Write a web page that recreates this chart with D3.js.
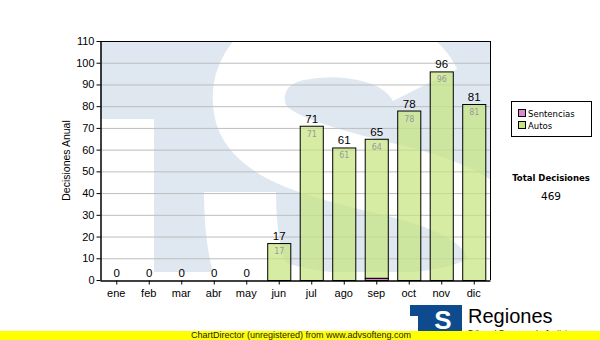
<!DOCTYPE html>
<html><head><meta charset="utf-8">
<script src="https://cdn.jsdelivr.net/npm/d3@7"></script>
<style>
html,body{margin:0;padding:0;background:#fff;}
svg{display:block;}
</style></head>
<body>
<script>
const months = ['ene','feb','mar','abr','may','jun','jul','ago','sep','oct','nov','dic'];
const sentencias = [0,0,0,0,0,0,0,0,1,0,0,0];
const autos = [0,0,0,0,0,17,71,61,64,78,96,81];
const yTicks = [0,10,20,30,40,50,60,70,80,90,100,110];
const seriesNames = ['Sentencias','Autos'];
const seriesColors = ['#dd88cc','#c6e57f'];
const yTitle = 'Decisiones Anual';
const totalTitle = 'Total Decisiones';

const W = 600, H = 340;
const svg = d3.select('body').append('svg').attr('width', W).attr('height', H);

const L = 100, R = 490, T = 41, B = 280;
const x = d3.scaleBand().domain(months).range([L, R]).paddingInner(0.29).paddingOuter(0.145);
const y = d3.scaleLinear().domain([0, 110]).range([B, T]);

// watermark
const defs = svg.append('defs');
defs.append('clipPath').attr('id','pc').append('rect').attr('x',L).attr('y',T).attr('width',R-L).attr('height',B-T);
const wm = svg.append('g').attr('clip-path','url(#pc)');
wm.append('rect').attr('x',L).attr('y',T).attr('width',R-L).attr('height',272-T).attr('fill','#dfe8f1');
wm.append('rect').attr('x',L).attr('y',119).attr('width',154-L).attr('height',B-119).attr('fill','#fff');
wm.append('path')
  .attr('d','M 425 85 C 405 45, 345 35, 295 45 C 255 55, 245 85, 250 110 C 258 150, 330 165, 400 182 C 470 200, 505 225, 505 265 C 505 320, 300 320, 262 290 C 245 275, 240 230, 240 192')
  .attr('fill','none').attr('stroke','#fff').attr('stroke-width',72);

// gridlines
svg.append('g').selectAll('line').data(yTicks.filter(v => v > 0 && v < 110)).join('line')
  .attr('x1', L).attr('x2', R).attr('y1', d => y(d) + 0.5).attr('y2', d => y(d) + 0.5)
  .attr('stroke', '#bdbdbd').attr('stroke-width', 1);

// bars
const stacked = months.map((m, i) => ({m, s: sentencias[i], a: autos[i], t: sentencias[i] + autos[i]}));
const bars = svg.append('g');
stacked.forEach(d => {
  if (d.s > 0) {
    bars.append('rect').attr('x', x(d.m) + 0.5).attr('y', y(d.s) + 0.5).attr('width', x.bandwidth()).attr('height', y(0) - y(d.s))
      .attr('fill', seriesColors[0]).attr('stroke', '#000').attr('stroke-width', 1);
  }
  if (d.a > 0) {
    bars.append('rect').attr('x', x(d.m) + 0.5).attr('y', y(d.s + d.a) + 0.5).attr('width', x.bandwidth()).attr('height', y(d.s) - y(d.s + d.a))
      .attr('fill', seriesColors[1]).attr('fill-opacity', 0.72).attr('stroke', '#000').attr('stroke-width', 1);
    bars.append('text').attr('x', x(d.m) + x.bandwidth()/2 + 0.5).attr('y', y(d.s + d.a) + 11)
      .attr('text-anchor','middle').attr('font-family','DejaVu Sans, Verdana, sans-serif').attr('font-size', 8)
      .attr('fill', '#9a9a9a').text(d.a);
  }
});
// total labels
svg.append('g').selectAll('text').data(stacked).join('text')
  .attr('x', d => x(d.m) + x.bandwidth()/2 + 0.5).attr('y', d => y(d.t) - 3)
  .attr('text-anchor','middle').attr('font-family','Liberation Sans, Arial, sans-serif').attr('font-size', 11.5)
  .attr('fill','#000').text(d => d.t);

// frame top/right
svg.append('line').attr('x1',L).attr('x2',R+0.5).attr('y1',T+0.5).attr('y2',T+0.5).attr('stroke','#000');
svg.append('line').attr('x1',R+0.5).attr('x2',R+0.5).attr('y1',T).attr('y2',B).attr('stroke','#000');

// axes
const yAxis = svg.append('g').attr('transform', `translate(${L+0.5},0)`)
  .call(d3.axisLeft(y).tickValues(yTicks).tickSize(4).tickSizeOuter(0).tickPadding(2));
const xAxis = svg.append('g').attr('transform', `translate(0,${B+0.5})`)
  .call(d3.axisBottom(x).tickSize(4).tickSizeOuter(0).tickPadding(5));
[yAxis, xAxis].forEach(g => {
  g.selectAll('path.domain').attr('stroke','#000').attr('stroke-width',1.5);
  g.selectAll('line').attr('stroke','#000');
  g.selectAll('text').attr('font-family','Liberation Sans, Arial, sans-serif').attr('font-size', 11).attr('fill','#000');
});
xAxis.selectAll('.tick line').attr('transform','translate(0.5,0)');

svg.append('text').attr('transform', `translate(70,${(T+B)/2}) rotate(-90)`)
  .attr('text-anchor','middle').attr('font-family','Liberation Sans, Arial, sans-serif').attr('font-size', 10.5)
  .attr('fill','#000').text(yTitle);

// legend
const lg = svg.append('g');
lg.append('rect').attr('x',511.5).attr('y',101.5).attr('width',80).attr('height',35).attr('fill','#fff').attr('stroke','#000');
seriesNames.forEach((n, i) => {
  lg.append('rect').attr('x',518.5).attr('y',109.5 + i*12).attr('width',7).attr('height',7)
    .attr('fill', seriesColors[i]).attr('stroke','#000');
  lg.append('text').attr('x',528).attr('y',117 + i*12).attr('font-family','DejaVu Sans, Verdana, sans-serif')
    .attr('font-size', 8.5).attr('fill','#000').text(n);
});

const total = d3.sum(sentencias) + d3.sum(autos);
svg.append('text').attr('x',551).attr('y',181).attr('text-anchor','middle').attr('font-family','DejaVu Sans, Verdana, sans-serif')
  .attr('font-weight','bold').attr('font-size',8.5).attr('fill','#000').text(totalTitle);
svg.append('text').attr('x',551).attr('y',200).attr('text-anchor','middle').attr('font-family','DejaVu Sans, Verdana, sans-serif')
  .attr('font-size',10.5).attr('fill','#000').text(total);

// logo
const lgo = svg.append('g');
lgo.append('rect').attr('x',410).attr('y',305).attr('width',52).attr('height',26).attr('fill','#0d4a8e');
lgo.append('rect').attr('x',410).attr('y',316).attr('width',8).attr('height',15).attr('fill','#fff');
lgo.append('text').attr('x',443).attr('y',329).attr('text-anchor','middle').attr('font-family','Liberation Sans, Arial, sans-serif')
  .attr('font-weight','bold').attr('font-size',26).attr('fill','#fff').text('S');
lgo.append('text').attr('x',468).attr('y',323).attr('font-family','Liberation Sans, Arial, sans-serif')
  .attr('font-size',20).attr('fill','#000').text('Regiones');
lgo.append('text').attr('x',468).attr('y',335).attr('font-family','Liberation Sans, Arial, sans-serif')
  .attr('font-size',8).attr('fill','#000').text('Tribunal Supremo de Justicia');

// watermark bar
svg.append('rect').attr('x',0).attr('y',331).attr('width',W).attr('height',9).attr('fill','#ffff00');
svg.append('text').attr('x',191).attr('y',338).attr('font-family','Liberation Sans, Arial, sans-serif')
  .attr('font-size',9).attr('fill','#222').text('ChartDirector (unregistered) from www.advsofteng.com');
</script>
</body></html>
